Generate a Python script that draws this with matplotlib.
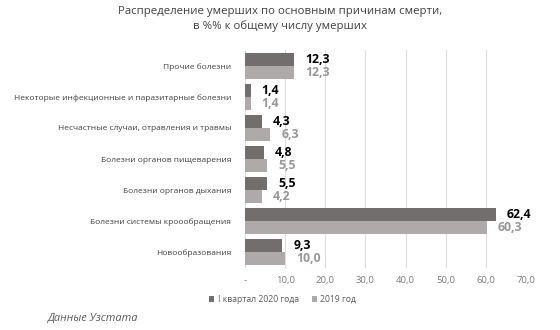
import matplotlib
matplotlib.use("Agg")
import matplotlib.pyplot as plt
import numpy as np

plt.rcParams["font.family"] = ["Open Sans", "DejaVu Sans"]

categories = [
    "Прочие болезни",
    "Некоторые инфекционные и паразитарные болезни",
    "Несчастные случаи, отравления и травмы",
    "Болезни органов пищеварения",
    "Болезни органов дыхания",
    "Болезни системы кроообращения",
    "Новообразования",
]
q1_2020 = [12.3, 1.4, 4.3, 4.8, 5.5, 62.4, 9.3]
y2019 = [12.3, 1.4, 6.3, 5.5, 4.2, 60.3, 10.0]
xticks = [0, 10, 20, 30, 40, 50, 60, 70]
xtick_labels = ["-", "10,0", "20,0", "30,0", "40,0", "50,0", "60,0", "70,0"]

DARK = "#736e6e"
LIGHT = "#aeaaaa"
TEXT = "#404040"

fig = plt.figure(figsize=(5.6, 3.3), dpi=100)
ax = fig.add_axes([0.4375, 0.188, 0.502, 0.66])

y = np.arange(len(categories))
h = 0.42
b1 = ax.barh(y - h / 2, q1_2020, height=h, color=DARK, label="I квартал 2020 года", zorder=3)
b2 = ax.barh(y + h / 2, y2019, height=h, color=LIGHT, label="2019 год", zorder=3)

for bar, v in zip(b1, q1_2020):
    ax.text(v + 2.7, bar.get_y() + bar.get_height() / 2, f"{v:.1f}".replace(".", ","),
            va="center", ha="left", fontsize=8.8, fontweight="bold", color="black")
for bar, v in zip(b2, y2019):
    ax.text(v + 2.7, bar.get_y() + bar.get_height() / 2, f"{v:.1f}".replace(".", ","),
            va="center", ha="left", fontsize=8.8, fontweight="bold", color="#9a9696")

ax.set_ylim(len(categories) - 0.5, -0.5)
ax.set_yticks(y)
ax.set_yticklabels(categories, fontsize=6.0, color=TEXT)
ax.set_xlim(0, 70)
ax.set_xticks(xticks)
ax.set_xticklabels(xtick_labels, fontsize=6.8, color="#7a7a7a")
ax.tick_params(length=0, pad=6)
ax.tick_params(axis="y", pad=10)
ax.grid(axis="x", color="#dcdcdc", linewidth=0.8, zorder=0)
for s in ax.spines.values():
    s.set_visible(False)

fig.text(0.5, 0.942, "Распределение умерших по основным причинам смерти,\nв %% к общему числу умерших",
         ha="center", va="center", fontsize=8.2, color=TEXT, linespacing=1.35)

fig.legend(handles=[b1, b2], loc="center", bbox_to_anchor=(0.505, 0.093), ncol=2,
           frameon=False, fontsize=6.2, handlelength=0.6, handleheight=0.6,
           columnspacing=1.5, handletextpad=0.4, labelcolor="#595959")

fig.text(0.085, 0.035, "Данные Узстата", ha="left", va="center", fontsize=7.9,
         style="italic", color="#595959")

fig.savefig("out.png", dpi=100, facecolor="white")
